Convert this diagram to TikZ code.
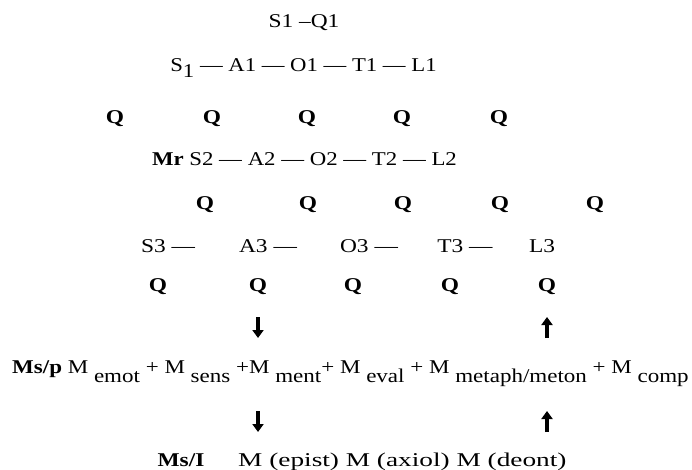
\documentclass[tikz,border=0pt]{standalone}
\usepackage{fontspec}
\setmainfont{Liberation Serif}
\usetikzlibrary{arrows.meta}
\newcommand\hs[2][1.2]{\scalebox{#1}[1]{#2}}
\newcommand\lowr[2][9pt]{\raisebox{-#1}{#2}}
\tikzset{
  txt/.style={inner sep=0pt, anchor=base, font=\fontsize{19.5}{22}\selectfont},
  txtw/.style={txt, anchor=base west},
  qq/.style={txt, font=\fontsize{19.5}{22}\selectfont\bfseries},
  arr/.style={line width=3.2pt, -{Triangle[length=8pt,width=11pt]}},
}
\begin{document}
\begin{tikzpicture}[x=1pt,y=-1pt]
\useasboundingbox[fill=white] (0,0) rectangle (692,470);
% top
\node[txt] (sq) at (304,28) {\hs{S1 –Q1}};
% row 1
\node[txt] (r1) at (303.5,72) {\hs[1.165]{S\lowr[6pt]{1} — A1 — O1 — T1 — L1}};
% Q row 1
\foreach \x [count=\i] in {115,212,307,402,499}
  \node[qq] (qa\i) at (\x,124) {\hs{Q}};
% row 2
\node[txt] (r2) at (304.5,166) {\hs[1.17]{\textbf{Mr} S2 — A2 — O2 — T2 — L2}};
% Q row 2
\foreach \x [count=\i] in {205,308,403,500,595}
  \node[qq] (qb\i) at (\x,209) {\hs{Q}};
% row 3
\node[txt] (s3) at (168,252) {\hs{S3 —}};
\node[txt] (a3) at (268,252) {\hs{A3 —}};
\node[txt] (o3) at (369,252) {\hs{O3 —}};
\node[txt] (t3) at (465,252) {\hs{T3 —}};
\node[txt] (l3) at (542,252) {\hs{L3}};
% Q row 3
\foreach \x [count=\i] in {158,258,353,450,547}
  \node[qq] (qc\i) at (\x,291) {\hs{Q}};
% arrows 1
\coordinate (ad1s) at (258,317);
\coordinate (ad1e) at (258,338);
\coordinate (au1s) at (547,338);
\coordinate (au1e) at (547,317);
\draw[arr] (ad1s) -- (ad1e);
\draw[arr] (au1s) -- (au1e);
% Ms/p row
\node[txtw] (msp) at (12,373) {\hs[1.18]{\textbf{Ms/p} M \lowr{emot} + M \lowr{sens} +M \lowr{ment}+ M \lowr{eval} + M \lowr{metaph/meton} + M \lowr{comp}}};
% arrows 2
\coordinate (ad2s) at (258,411);
\coordinate (ad2e) at (258,432);
\coordinate (au2s) at (547,432);
\coordinate (au2e) at (547,411);
\draw[arr] (ad2s) -- (ad2e);
\draw[arr] (au2s) -- (au2e);
% Ms/I row
\node[txt] (msi) at (181,466) {\hs{\bfseries Ms/I}};
\node[txtw] (mm) at (238,466) {\hs[1.4]{M (epist) M (axiol) M (deont)}};
\end{tikzpicture}
\end{document}
